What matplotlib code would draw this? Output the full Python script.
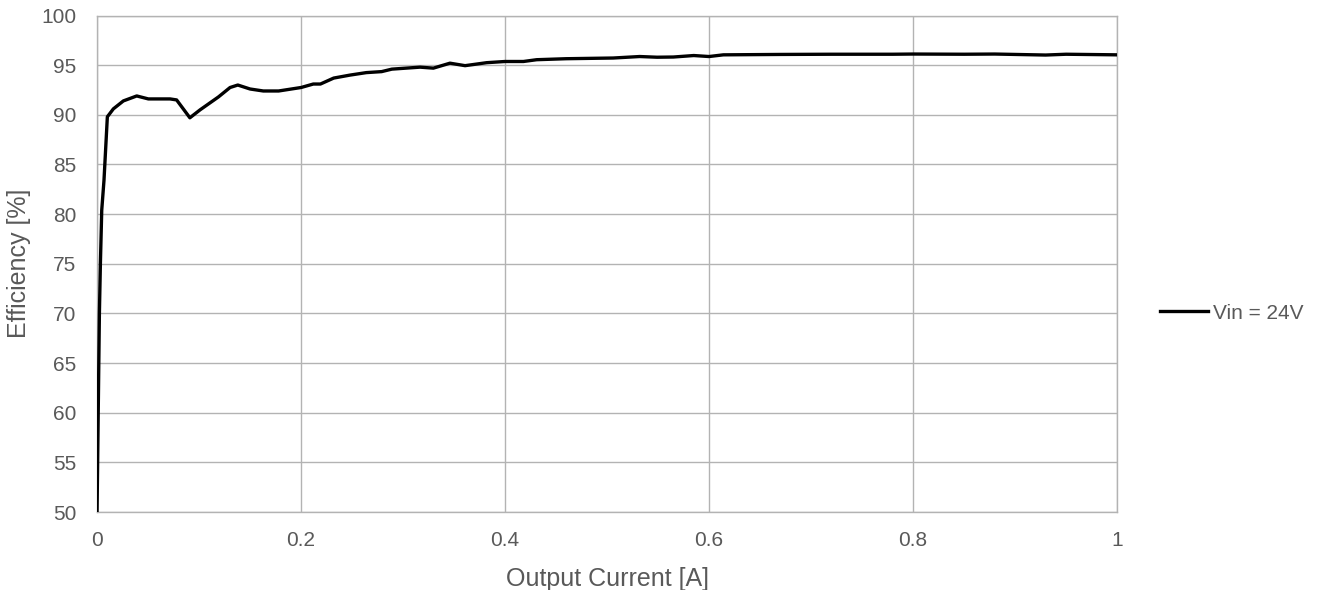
"""Efficiency vs output current, Vin = 24V.
"""
import matplotlib
matplotlib.use("Agg")
import matplotlib.pyplot as plt

current = [0.0, 0.0023, 0.0033, 0.0046, 0.0068, 0.0101, 0.016, 0.0258, 0.0389,
           0.0503, 0.0716, 0.078, 0.091, 0.101, 0.119, 0.1304, 0.138, 0.15,
           0.163, 0.178, 0.2, 0.212, 0.219, 0.232, 0.248, 0.264, 0.279, 0.289,
           0.3167, 0.3297, 0.346, 0.3608, 0.382, 0.4, 0.418, 0.431, 0.46,
           0.506, 0.532, 0.549, 0.565, 0.585, 0.6, 0.614, 0.67, 0.72, 0.78,
           0.8, 0.85, 0.88, 0.93, 0.95, 1.0]
efficiency = [50.0, 70.0, 75.1, 80.4, 83.4, 89.8, 90.6, 91.4, 91.9,
              91.6, 91.6, 91.5, 89.7, 90.5, 91.8, 92.75, 93.0, 92.6,
              92.4, 92.4, 92.75, 93.1, 93.1, 93.7, 94.0, 94.25, 94.35, 94.6,
              94.8, 94.7, 95.2, 94.95, 95.25, 95.37, 95.37, 95.55, 95.65,
              95.72, 95.87, 95.8, 95.82, 95.97, 95.87, 96.04, 96.08, 96.1, 96.1,
              96.12, 96.1, 96.12, 96.02, 96.1, 96.04]

x_ticks = [0, 0.2, 0.4, 0.6, 0.8, 1.0]
x_labels = ["0", "0.2", "0.4", "0.6", "0.8", "1"]
y_ticks = list(range(50, 101, 5))

plt.rcParams['font.family'] = ['Liberation Sans', 'DejaVu Sans']

fig = plt.figure(figsize=(13.24, 5.90), dpi=100)
ax = fig.add_axes([0.0733, 0.1322, 0.7704, 0.8415])

line, = ax.plot(current, efficiency, color='black', linewidth=2.4,
                solid_joinstyle='round', label='Vin = 24V', zorder=3)

ax.set_xlim(0, 1)
ax.set_ylim(50, 100)
ax.set_xticks(x_ticks)
ax.set_xticklabels(x_labels)
ax.set_yticks(y_ticks)
ax.grid(True, color='#b3b3b3', linewidth=1.0)
ax.set_axisbelow(True)
for spine in ax.spines.values():
    spine.set_color('#b3b3b3')
    spine.set_linewidth(1.0)
ax.tick_params(length=0, labelsize=15, labelcolor='#595959')
ax.tick_params(axis='x', pad=14)
ax.tick_params(axis='y', pad=15)

ax.set_xlabel('Output Current [A]', fontsize=18, color='#595959', labelpad=12)
ax.set_ylabel('Efficiency [%]', fontsize=18, color='#595959', labelpad=7)

fig.legend(handles=[line], loc='center left', bbox_to_anchor=(0.876, 0.469),
           frameon=False, fontsize=15, handlelength=2.3, handletextpad=0.25,
           labelcolor='#595959', borderpad=0, borderaxespad=0)

fig.savefig('out.png', dpi=100)
